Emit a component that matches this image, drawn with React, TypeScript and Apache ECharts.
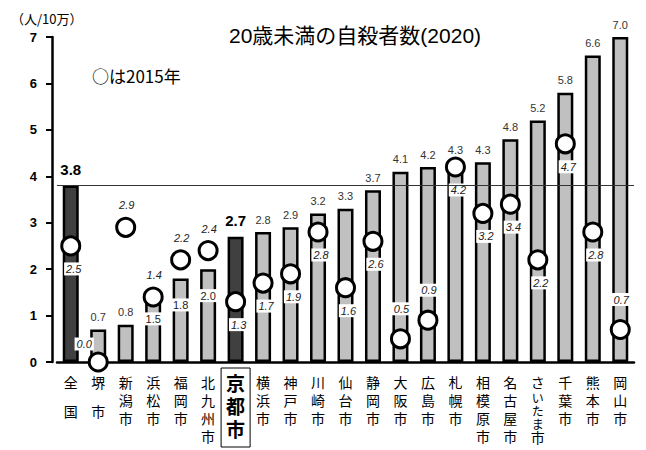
import React, { useEffect, useRef } from 'react';
import * as echarts from 'echarts';

const CATEGORIES = ['全国', '堺市', '新潟市', '浜松市', '福岡市', '北九州市', '京都市', '横浜市', '神戸市', '川崎市', '仙台市', '静岡市', '大阪市', '広島市', '札幌市', '相模原市', '名古屋市', 'さいたま市', '千葉市', '熊本市', '岡山市'];
const VALUES_2020 = [3.8, 0.7, 0.8, 1.5, 1.8, 2.0, 2.7, 2.8, 2.9, 3.2, 3.3, 3.7, 4.1, 4.2, 4.3, 4.3, 4.8, 5.2, 5.8, 6.6, 7.0];
const VALUES_2015 = [2.5, 0.0, 2.9, 1.4, 2.2, 2.4, 1.3, 1.7, 1.9, 2.8, 1.6, 2.6, 0.5, 0.9, 4.2, 3.2, 3.4, 2.2, 4.7, 2.8, 0.7];
const NATIONAL_AVERAGE = 3.8;
const Y_MIN = 0;
const Y_MAX = 7;
const Y_STEP = 1;
const HIGHLIGHTED = ['全国', '京都市'];
const BAR_LABEL_INSIDE = ['浜松市', '福岡市', '北九州市'];
const LABEL_2015_ABOVE = ['堺市', '新潟市', '浜松市', '福岡市', '北九州市', '大阪市', '広島市', '岡山市'];
const TITLE = '20歳未満の自殺者数(2020)';
const NOTE = '○は2015年';
const UNIT = '（人/10万）';

const FONT = "'Liberation Sans', Arial, 'Noto Sans CJK JP', sans-serif";
const CJK_FONT = "'Noto Sans CJK JP', 'Liberation Sans', sans-serif";

export default function App() {
  const ref = useRef<HTMLDivElement>(null);
  useEffect(() => {
    document.body.style.margin = '0';
    if (!ref.current) return;
    const chart = echarts.init(ref.current, null, { renderer: 'svg' });

    const barData = VALUES_2020.map((v, i) => {
      const name = CATEGORIES[i];
      const hi = HIGHLIGHTED.includes(name);
      const inside = BAR_LABEL_INSIDE.includes(name);
      return {
        value: v,
        itemStyle: { color: hi ? '#404040' : '#c0c0c0' },
        label: hi
          ? { fontSize: 15, fontWeight: 'bold', color: '#000', distance: 9 }
          : inside
          ? { position: 'insideTop', distance: 20, backgroundColor: '#fff', padding: [1, 2], color: '#222' }
          : {},
      };
    });

    const scatterData = VALUES_2015.map((v, i) => {
      const name = CATEGORIES[i];
      const above = LABEL_2015_ABOVE.includes(name);
      let label: any;
      if (above) {
        label = {
          position: 'top',
          distance: v === 0 ? 1 : v < 1 ? 13 : 5,
          offset: v === 0 ? [-14, 0] : [1, 0],
        };
      } else {
        label = { position: 'bottom', distance: 6, offset: [3, 0] };
      }
      return { value: v, label };
    });

    const isKana = (c: string) => /[\u3040-\u309f]/.test(c);
    const labelFormatter = (v: string) => {
      if (v === '京都市') return v.split('').join('\n');
      const chars = v.split('');
      const head = '{s| }\n';
      if (chars.length === 2) return `${head}{a|${chars[0]}}\n{b|${chars[1]}}`;
      const hasKana = chars.some(isKana);
      return (
        head +
        chars
          .map((c, i) => {
            if (i === 0 || !hasKana) return `{a|${c}}`;
            return isKana(c) ? `{k|${c}}` : `{m|${c}}`;
          })
          .join('\n')
      );
    };

    chart.setOption({
      animation: false,
      textStyle: { fontFamily: FONT },
      title: [
        { text: TITLE, left: 224, top: 20, textStyle: { fontSize: 21, fontWeight: 'normal', color: '#000', fontFamily: FONT } },
        { text: NOTE, left: 87, top: 62, textStyle: { fontSize: 17, fontWeight: 'normal', color: '#000', fontFamily: CJK_FONT } },
        { text: UNIT, left: 6, top: 7, textStyle: { fontSize: 13, fontWeight: 'normal', color: '#000', fontFamily: CJK_FONT } },
      ],
      grid: { left: 57, right: 12, top: 37, bottom: 88, containLabel: false, outerBoundsMode: 'none' },
      xAxis: {
        type: 'category',
        data: CATEGORIES.map((c) =>
          c === '京都市'
            ? {
                value: c,
                textStyle: {
                  fontSize: 19,
                  fontWeight: 'bold',
                  lineHeight: 23,
                  color: '#000',
                  borderColor: '#000',
                  borderWidth: 1,
                  padding: [5, 5, 5, 5],
                  fontFamily: FONT,
                },
              }
            : c
        ),
        axisLine: { lineStyle: { color: '#000', width: 2.5 } },
        axisTick: { show: false },
        axisLabel: {
          interval: 0,
          margin: 6,
          color: '#000',
          fontSize: 14,
          fontFamily: FONT,
          formatter: labelFormatter,
          rich: {
            s: { fontSize: 1, lineHeight: 6, color: '#000' },
            a: { fontSize: 14, lineHeight: 18, color: '#000', fontFamily: FONT },
            k: { fontSize: 12, lineHeight: 13, color: '#000', fontFamily: FONT },
            m: { fontSize: 14, lineHeight: 14, color: '#000', fontFamily: FONT },
            b: { fontSize: 14, lineHeight: 40, color: '#000', fontFamily: FONT },
          },
        },
      },
      yAxis: {
        type: 'value',
        min: Y_MIN,
        max: Y_MAX,
        interval: Y_STEP,
        offset: 5,
        axisLine: { show: true, lineStyle: { color: '#000', width: 2.5 } },
        axisTick: { show: true, length: 6, lineStyle: { color: '#000', width: 2 } },
        splitLine: { show: false },
        axisLabel: { color: '#000', fontSize: 13, fontWeight: 'bold', margin: 15, fontFamily: FONT },
      },
      series: [
        {
          type: 'line',
          data: [],
          z: 1,
          silent: true,
          markLine: {
            silent: true,
            symbol: 'none',
            label: { show: false },
            lineStyle: { color: '#333', width: 1, type: 'solid' },
            data: [{ yAxis: NATIONAL_AVERAGE }],
          },
        },
        {
          type: 'bar',
          name: '2020',
          data: barData,
          barWidth: 16,
          z: 2,
          itemStyle: { borderColor: '#000', borderWidth: 2.5 },
          label: {
            show: true,
            position: 'top',
            distance: 7,
            fontSize: 11,
            color: '#333',
            fontFamily: FONT,
            formatter: (p: any) => Number(p.value).toFixed(1),
          },
        },
        {
          type: 'scatter',
          name: '2015',
          data: scatterData,
          symbol: 'circle',
          symbolSize: 18,
          z: 3,
          itemStyle: { color: '#fff', borderColor: '#000', borderWidth: 3, opacity: 1 },
          label: {
            show: true,
            fontSize: 11,
            fontStyle: 'italic',
            color: '#222',
            backgroundColor: '#fff',
            padding: [1, 2],
            fontFamily: FONT,
            formatter: (p: any) => Number(p.value).toFixed(1),
          },
        },
      ],
    });
    return () => chart.dispose();
  }, []);
  return <div ref={ref} style={{ width: 646, height: 450 }} />;
}
